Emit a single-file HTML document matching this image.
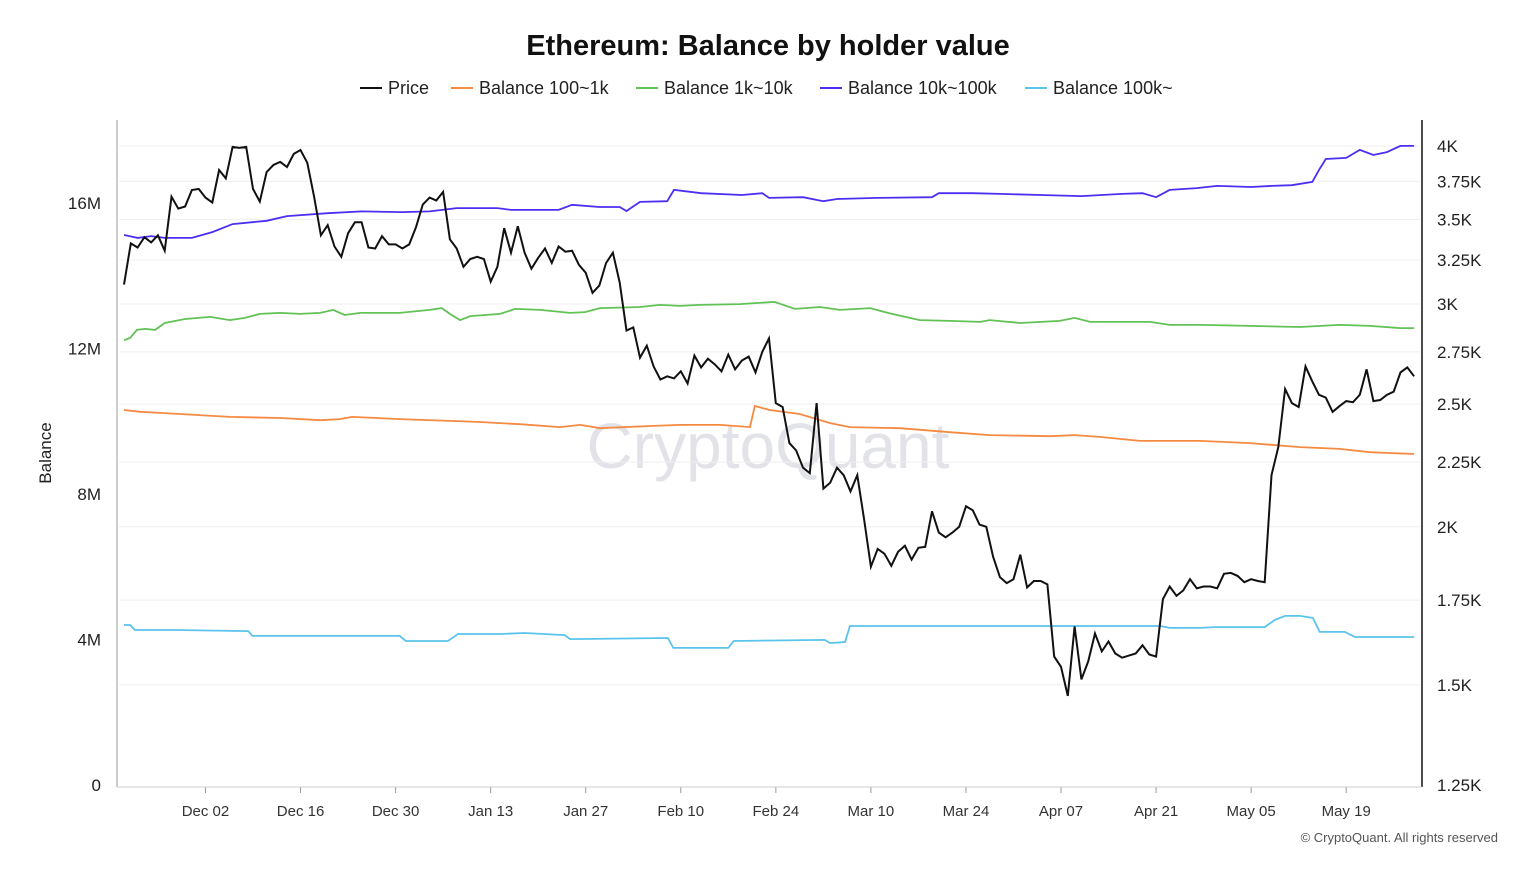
<!DOCTYPE html>
<html><head><meta charset="utf-8">
<style>
html,body{margin:0;padding:0;background:#fff;}
body{width:1536px;height:864px;position:relative;overflow:hidden;font-family:"Liberation Sans","DejaVu Sans",sans-serif;}
svg text{font-family:"Liberation Sans","DejaVu Sans",sans-serif;}
</style></head>
<body>
<svg id="chart" width="1536" height="864" xmlns="http://www.w3.org/2000/svg">
<text x="768" y="55" text-anchor="middle" font-size="29" font-weight="bold" fill="#111">Ethereum: Balance by holder value</text>
<g id="legend"></g>
<text x="768" y="468" text-anchor="middle" font-size="64" fill="#dcdce4" opacity="0.8">CryptoQuant</text>
<g id="grid"></g>
<g id="series"></g>
<g id="axes"></g>
<text transform="translate(51,453) rotate(-90)" text-anchor="middle" font-size="17" fill="#222">Balance</text>
<text x="1498" y="842" text-anchor="end" font-size="13" fill="#555">© CryptoQuant. All rights reserved</text>
</svg>
<script>
const xLabels=["Dec 02","Dec 16","Dec 30","Jan 13","Jan 27","Feb 10","Feb 24","Mar 10","Mar 24","Apr 07","Apr 21","May 05","May 19"];
const xLabelDays=[12,26,40,54,68,82,96,110,124,138,152,166,180];
const leftTicks=[0,4,8,12,16];
const leftTickLabels=["0","4M","8M","12M","16M"];
const rightTicks=[1250,1500,1750,2000,2250,2500,2750,3000,3250,3500,3750,4000];
const rightTickLabels=["1.25K","1.5K","1.75K","2K","2.25K","2.5K","2.75K","3K","3.25K","3.5K","3.75K","4K"];
const price=[3108,3350,3325,3388,3356,3400,3306,3647,3569,3583,3692,3699,3641,3609,3829,3771,3993,3986,3993,3699,3615,3814,3864,3886,3850,3943,3971,3879,3647,3400,3463,3331,3269,3413,3481,3481,3325,3319,3394,3344,3344,3319,3344,3450,3596,3641,3622,3679,3375,3319,3210,3256,3269,3256,3125,3210,3444,3294,3456,3294,3199,3263,3319,3233,3331,3300,3306,3222,3176,3062,3102,3233,3294,3119,2859,2875,2721,2781,2678,2615,2630,2620,2654,2596,2731,2673,2716,2688,2654,2736,2664,2707,2726,2649,2750,2818,2505,2487,2329,2298,2227,2205,2505,2144,2167,2227,2197,2133,2197,2027,1860,1921,1904,1863,1911,1932,1884,1925,1928,2057,1979,1962,1979,2000,2076,2061,2008,2000,1894,1825,1805,1818,1901,1791,1812,1812,1801,1579,1550,1470,1668,1515,1565,1647,1594,1623,1588,1576,1582,1588,1612,1585,1579,1753,1794,1764,1781,1818,1788,1794,1794,1788,1836,1839,1829,1808,1818,1812,1808,2197,2312,2570,2505,2487,2678,2606,2543,2530,2465,2491,2514,2509,2543,2664,2514,2519,2543,2558,2649,2673,2630];
const b10kDays=[0,2,4,6,10,13,16,21,24,30,35,41,45,49,55,57,64,66,70,73,74,76,80,81,85,91,94,95,100,103,105,111,119,120,125,129,135,141,147,150,152,154,158,161,166,169,172,175,176,177,180,182,184,186,188,190];
const b10k=[15.12,15.04,15.09,15.04,15.04,15.20,15.42,15.51,15.64,15.72,15.77,15.75,15.77,15.86,15.86,15.81,15.81,15.95,15.89,15.89,15.78,16.03,16.05,16.36,16.27,16.22,16.27,16.14,16.16,16.05,16.11,16.14,16.16,16.27,16.27,16.25,16.22,16.19,16.25,16.27,16.16,16.36,16.41,16.47,16.44,16.47,16.49,16.58,16.91,17.21,17.24,17.46,17.32,17.40,17.57,17.57];
const b1kDays=[0,0.9,1.9,3.1,4.6,6,9,12.7,15.6,17.8,20,23,25.9,28.9,30.8,32.5,34.8,40.6,45,46.8,48,49.5,51,55.4,57.6,61.3,65.7,67.9,70.1,76,78.9,81.9,84.8,90.7,95.8,98.8,102.5,105.4,109.9,112.5,117.2,121.6,126.1,127.5,132,137.8,140,142.3,151.1,154,158.5,165.8,173.2,179,183.5,188,190];
const b1k=[12.23,12.29,12.51,12.54,12.51,12.70,12.81,12.87,12.78,12.84,12.95,12.98,12.95,12.98,13.06,12.92,12.98,12.98,13.06,13.11,12.95,12.78,12.89,12.95,13.09,13.06,12.98,13.00,13.11,13.14,13.20,13.17,13.20,13.22,13.28,13.09,13.14,13.06,13.11,12.98,12.78,12.76,12.73,12.78,12.70,12.76,12.84,12.73,12.73,12.65,12.65,12.62,12.59,12.65,12.62,12.56,12.56];
const b100Days=[0,2.4,5.3,8.2,15.6,23,28.9,31.8,33.6,40.6,48,52.4,58.3,64.2,67.2,70.1,77.5,81.9,87.8,92.2,92.9,95.1,99.5,104,106.9,114.3,121.6,127.5,136.4,140,143.7,149.6,158.5,165.8,173.2,179,183.5,190];
const b100=[10.31,10.26,10.23,10.20,10.12,10.09,10.03,10.06,10.12,10.06,10.01,9.98,9.92,9.84,9.90,9.81,9.87,9.90,9.90,9.84,10.42,10.31,10.20,9.95,9.84,9.81,9.70,9.62,9.59,9.62,9.57,9.46,9.46,9.40,9.29,9.24,9.15,9.10];
const b100kDays=[0,0.9,1.6,7.5,18.3,18.9,40.6,41.5,47.7,49.2,55.4,59,64.9,65.7,80.1,80.9,89,89.8,103.2,104,106.2,106.9,114.3,152.6,154,158.5,160.7,168,169.5,171,173.2,175.1,176.1,179.8,181.3,190];
const b100k=[4.40,4.40,4.26,4.26,4.23,4.10,4.10,3.96,3.96,4.15,4.15,4.18,4.12,4.01,4.04,3.77,3.77,3.96,3.99,3.90,3.93,4.37,4.37,4.37,4.32,4.32,4.34,4.34,4.54,4.65,4.65,4.59,4.21,4.21,4.07,4.07];

const X0=124,DX=6.79,Y0=785;
const xS=d=>X0+DX*d;
const yL=v=>Y0-v*36.375;
const yR=p=>Y0-549.4*Math.log(p/1250);
const NS="http://www.w3.org/2000/svg";
function mk(tag,attrs,parent){const e=document.createElementNS(NS,tag);for(const k in attrs)e.setAttribute(k,attrs[k]);parent.appendChild(e);return e;}
const grid=document.getElementById('grid'),axes=document.getElementById('axes'),ser=document.getElementById('series'),leg=document.getElementById('legend');

rightTicks.forEach((t,i)=>{
  if(i>0){const g=mk('line',{x1:119,x2:1420,y1:yR(t),y2:yR(t),stroke:'#efefef','stroke-width':1},grid);
  
  }
  const tx=mk('text',{x:1437,y:yR(t)+6,'font-size':17,fill:'#222'},axes);tx.textContent=rightTickLabels[i];
  
  
});
leftTicks.forEach((t,i)=>{
  const tx=mk('text',{x:101,y:yL(t)+6,'font-size':17,'text-anchor':'end',fill:'#222'},axes);tx.textContent=leftTickLabels[i];
  
  
});
xLabels.forEach((l,i)=>{
  const x=xS(xLabelDays[i]);
  const tk=mk('line',{x1:x,x2:x,y1:787,y2:793,stroke:'#999'},axes);
  
  
  const tx=mk('text',{x:x,y:816,'font-size':15,'text-anchor':'middle',fill:'#333'},axes);tx.textContent=l;
  
  
});
const la=mk('line',{x1:117,x2:117,y1:120,y2:787,stroke:'#bbb','stroke-width':1.5},axes);


const ra=mk('line',{x1:1422,x2:1422,y1:120,y2:787,stroke:'#111','stroke-width':1.5},axes);


const xa=mk('line',{x1:117,x2:1422,y1:787,y2:787,stroke:'#ccc','stroke-width':1},axes);



function line(days,vals,yf,color,w){
  return vals.map((v,i)=>(i?'L':'M')+xS(days[i]).toFixed(1)+','+yf(v).toFixed(1)).join('');
}
const p1=mk('path',{d:line(b100kDays,b100k,yL),fill:'none',stroke:'#5bc4ec','stroke-width':1.8},ser);


const p2=mk('path',{d:line(b100Days,b100,yL),fill:'none',stroke:'#f58a42','stroke-width':1.8},ser);


const p3=mk('path',{d:line(b1kDays,b1k,yL),fill:'none',stroke:'#62c256','stroke-width':1.8},ser);


const p4=mk('path',{d:line(b10kDays,b10k,yL),fill:'none',stroke:'#4b2ff2','stroke-width':1.8},ser);


const priceDays=price.map((_,i)=>i);
const p5=mk('path',{d:line(priceDays,price,yR),fill:'none',stroke:'#111','stroke-width':2},ser);



const legendNames=["Price","Balance 100~1k","Balance 1k~10k","Balance 10k~100k","Balance 100k~"];
const legendColors=["#111","#f58a42","#62c256","#4b2ff2","#5bc4ec"];
const legendX=[360,451,636,820,1025];
legendNames.forEach((n,i)=>{
  const g=mk('g',{},leg);
  
  
  mk('line',{x1:legendX[i],x2:legendX[i]+22,y1:88,y2:88,stroke:legendColors[i],'stroke-width':2},g);
  const t=mk('text',{x:legendX[i]+28,y:94,'font-size':18,fill:'#222'},g);t.textContent=n;
});
</script>
</body></html>
